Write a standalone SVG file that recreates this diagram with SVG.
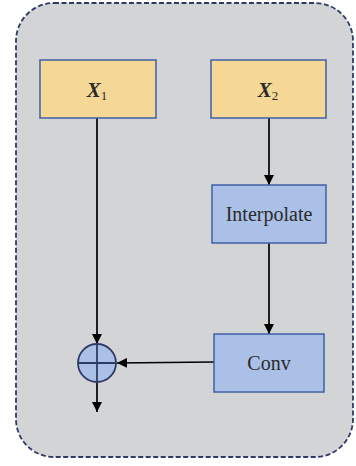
<svg xmlns="http://www.w3.org/2000/svg" width="356" height="466" viewBox="0 0 356 466">
  <defs>
    <marker id="arrow" viewBox="0 0 10 10" refX="10" refY="5" markerWidth="10" markerHeight="10" markerUnits="userSpaceOnUse" orient="auto">
      <path d="M0,0 L10,5 L0,10 z" fill="#000"/>
    </marker>
    <style>
      .frame { fill: #d3d4d6; stroke: #2d3b66; stroke-width: 1.8; stroke-dasharray: 5 2.5; }
      .input { fill: #f5d895; stroke: #3f5fa6; stroke-width: 1.5; }
      .op { fill: #aac0e6; stroke: #3f5fa6; stroke-width: 1.5; }
      .label { font-family: "Liberation Serif", "Times New Roman", serif; font-size: 20px; fill: #2a2a2a; text-anchor: middle; }
      .var { font-style: italic; font-weight: bold; font-size: 21px; }
      .sub { font-size: 13px; font-style: normal; font-weight: normal; }
      .wire { fill: none; stroke: #000; stroke-width: 1.7; marker-end: url(#arrow); }
    </style>
  </defs>

  <!-- dashed module frame -->
  <rect class="frame" x="16" y="3" width="337" height="454" rx="38" ry="38"/>

  <!-- connectors -->
  <g id="connectors">
    <line class="wire" x1="97" y1="118" x2="97" y2="344"/>
    <line class="wire" x1="269" y1="118" x2="269" y2="185"/>
    <line class="wire" x1="269" y1="243" x2="269" y2="334"/>
    <line class="wire" x1="214" y1="362" x2="117" y2="363"/>
    <line class="wire" x1="97" y1="383" x2="97" y2="412"/>
  </g>

  <g id="x1">
    <rect class="input" x="40" y="60" width="116" height="58"/>
    <text class="label var" x="97" y="97">X<tspan class="sub" dy="3">1</tspan></text>
  </g>

  <g id="x2">
    <rect class="input" x="211" y="60" width="115" height="58"/>
    <text class="label var" x="268" y="97">X<tspan class="sub" dy="3">2</tspan></text>
  </g>

  <g id="interpolate">
    <rect class="op" x="212" y="185" width="114" height="58"/>
    <text class="label" x="269" y="221">Interpolate</text>
  </g>

  <g id="conv">
    <rect class="op" x="214" y="334" width="110" height="58"/>
    <text class="label" x="269" y="370">Conv</text>
  </g>

  <g id="add">
    <circle cx="97" cy="363" r="19" fill="#aac0e6" stroke="#2d3b66" stroke-width="1.8"/>
    <line x1="78" y1="363" x2="116" y2="363" stroke="#2d3b66" stroke-width="1.8"/>
    <line x1="97" y1="344" x2="97" y2="382" stroke="#2d3b66" stroke-width="1.8"/>
  </g>
</svg>
